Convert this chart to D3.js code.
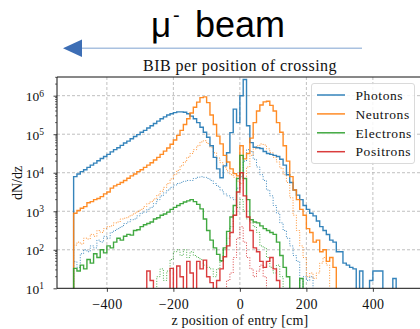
<!DOCTYPE html>
<html><head><meta charset="utf-8">
<script src="https://cdn.jsdelivr.net/npm/d3@7"></script>
<style>
html,body{margin:0;padding:0;background:#fff;overflow:hidden}
svg{display:block}
</style></head>
<body><svg id="c" width="420" height="329"></svg>
<script>
// ---- data (histograms, 10 cm bins, counts per bin) ----
const binWidth = 10;
const seriesNames = ["Photons", "Neutrons", "Electrons", "Positrons"];
const xTicks = [-400, -200, 0, 200, 400];
const yTicks = [1e1, 1e2, 1e3, 1e4, 1e5, 1e6];

const photonsStart = -500;
const photons = [7.9e3,9.3e3,1.07e4,1.2e4,1.38e4,1.58e4,1.78e4,2.04e4,2.34e4,2.63e4,
  3.0e4,3.47e4,3.98e4,4.47e4,5.13e4,5.89e4,6.6e4,7.59e4,8.7e4,9.77e4,
  1.12e5,1.26e5,1.45e5,1.66e5,1.9e5,2.19e5,2.51e5,2.82e5,3.16e5,3.39e5,
  3.63e5,3.8e5,3.8e5,3.72e5,3.39e5,2.95e5,2.51e5,2.0e5,1.51e5,1.12e5,
  8.3e4,5.0e4,2.51e4,1.26e4,7.4e3,1.51e4,3.3e4,1.1e5,4.47e5,2.0e5,
  1.0e6,2.63e6,1.66e5,6.03e4,4.57e4,4.47e4,4.27e4,3.55e4,3.16e4,3.0e4,
  2.82e4,2.63e4,2.24e4,1.58e4,8.9e3,5.6e3,3.55e3,2.63e3,2.0e3,1.41e3,
  1.12e3,8.9e2,7.6e2,5.6e2,4.0e2,3.16e2,2.5e2,1.78e2,1.58e2,89,
  89,45,40,35,32,0,28,0,0,16,
  28,28,28,0,0,0,18,0];
const neutronsStart = -500;
const neutrons = [8.9e2,1.05e3,1.2e3,1.32e3,1.66e3,1.78e3,2.0e3,2.14e3,2.4e3,2.82e3,
  3.16e3,3.98e3,4.57e3,5.0e3,5.6e3,6.3e3,7.2e3,8.3e3,9.3e3,1.07e4,
  1.2e4,1.38e4,1.58e4,1.82e4,2.14e4,2.51e4,3.0e4,3.63e4,4.37e4,5.5e4,
  7.1e4,9.3e4,1.26e5,1.78e5,2.51e5,3.55e5,5.0e5,6.8e5,8.9e5,9.3e5,
  6.6e5,3.16e5,1.78e5,8.9e4,5.6e4,2.82e4,1.9e4,1.26e4,9.5e3,8.3e3,
  5.0e4,2.29e4,3.16e4,7.9e4,2.0e5,4.0e5,5.75e5,6.9e5,7.2e5,5.6e5,
  4.0e5,2.0e5,1.12e5,5.0e4,2.0e4,7.9e3,3.55e3,2.0e3,1.12e3,7.9e2,
  3.55e2,2.82e2,1.58e2,1.78e2,89,1.0e2,50,63,35];
const electronsStart = -500;
const electrons = [33,28,40,32,56,45,79,63,1.0e2,83,
  1.26e2,1.12e2,1.58e2,2.0e2,1.78e2,2.24e2,2.51e2,2.4e2,3.16e2,3.3e2,
  3.98e2,4.47e2,4.79e2,5.25e2,6.3e2,6.8e2,7.9e2,8.5e2,9.5e2,1.12e3,
  1.26e3,1.41e3,1.58e3,1.74e3,1.86e3,2.0e3,1.78e3,1.51e3,1.15e3,6.3e2,
  3.16e2,1.78e2,1.12e2,76,52,1.12e2,3.0e2,7.1e2,1.41e3,7.1e3,
  2.82e4,7.1e3,2.0e3,6.03e2,5.25e2,5.0e2,4.17e2,3.55e2,3.16e2,2.82e2,
  2.51e2,1.58e2,71,35,20,0,0,0,18];
const positronsStart = -280;
const positrons = [28,16,0,0,0,0,0,33,0,38,
  20,0,50,25,0,50,32,54,20,14,
  0,16,32,66,1.26e2,2.82e2,7.9e2,3.16e3,1.0e4,2.51e3,
  7.1e2,3.16e2,1.12e2,89,50,35,50,63,32,16];

// secondary (dotted) histograms
const photonsDotStart = -500;
const photonsDot = [49,35,79,1.0e2,89,1.26e2,1.12e2,1.78e2,1.58e2,2.24e2,
  2.0e2,2.82e2,3.16e2,3.55e2,3.98e2,4.79e2,5.25e2,6.03e2,6.3e2,7.6e2,
  8.9e2,9.5e2,1.12e3,1.26e3,1.58e3,2.0e3,2.51e3,3.0e3,3.55e3,4.17e3,
  4.79e3,5.25e3,5.6e3,6.03e3,6.3e3,6.3e3,7.1e3,7.6e3,7.9e3,7.6e3,
  7.1e3,6.3e3,5.25e3,4.47e3,3.55e3,2.82e3,2.51e3,2.24e3,2.0e3,3.98e3,
  7.9e3,2.0e4,3.98e4,3.55e4,2.24e4,1.41e4,8.9e3,6.3e3,3.55e3,2.51e3,
  1.41e3,8.9e2,5.0e2,3.16e2,2.0e2,1.26e2,71,50,0,20,
  16,20];
const neutronsDotStart = -500;
const neutronsDot = [1.32e2,1.58e2,1.41e2,2.0e2,1.9e2,2.51e2,2.24e2,3.16e2,2.82e2,3.55e2,
  3.98e2,4.17e2,5.0e2,5.25e2,6.3e2,6.6e2,7.1e2,7.9e2,8.9e2,1.0e3,
  1.12e3,1.32e3,1.58e3,1.78e3,2.09e3,2.63e3,3.3e3,4.17e3,5.25e3,6.9e3,
  8.9e3,1.15e4,1.51e4,1.9e4,2.51e4,3.16e4,3.98e4,5.0e4,6.3e4,6.8e4,
  5.75e4,4.57e4,3.3e4,2.4e4,1.82e4,1.38e4,1.12e4,8.9e3,7.6e3,6.03e3,
  5.25e3,7.1e3,1.41e4,2.82e4,4.17e4,5.0e4,5.6e4,5.25e4,4.17e4,3.3e4,
  2.51e4,1.9e4,1.32e4,8.9e3,5.6e3,2.24e3,7.9e2,3.16e2,1.26e2,63,
  20,25,18,25,45,63,40];
const electronsDotStart = -250;
const electronsDot = [20,32,16,28,56,89,1.0e2,71,1.0e2,63,
  89,71,63,56,40,35,32,20,32,50,
  1.0e2,2.0e2,3.98e2,7.9e2,1.26e3,2.0e3,1.0e3,6.3e2,5.0e2,3.98e2,
  2.82e2,1.26e2,1.12e2,63,35,25,40,20];
const positronsDotStart = -40;
const positronsDot = [16,25,63,2.0e2,3.98e2,1.58e2,63,32,20,28,40,20];

// ---- layout ----
const plot = {left: 57, top: 77, right: 422.75, bottom: 288.3};
const colors = ["#1f77b4", "#ff7f0e", "#2ca02c", "#d62728"];

const svg = d3.select("#c");
const x = d3.scaleLinear().domain([-550, 550]).range([plot.left, plot.right]);
const y = d3.scaleLog().domain([10, Math.pow(10, 6.485)]).range([plot.bottom, plot.top]);
const serif = "'Liberation Serif','DejaVu Serif',serif";
const sans = "'Liberation Sans',Arial,sans-serif";

// ---- header: beam direction ----
const hdr = svg.append("g");
hdr.append("text").attr("x", 151).attr("y", 37).attr("font-family", sans).attr("font-size", 35).attr("fill", "#000").text("μ");
hdr.append("text").attr("x", 173).attr("y", 22).attr("font-family", sans).attr("font-size", 20).attr("fill", "#000").text("-");
hdr.append("text").attr("x", 195).attr("y", 37).attr("font-family", sans).attr("font-size", 36).attr("fill", "#000").text("beam");
hdr.append("line").attr("x1", 78).attr("x2", 362).attr("y1", 48.3).attr("y2", 48.3)
  .attr("stroke", "#a9c1e0").attr("stroke-width", 1.5);
hdr.append("path").attr("d", "M63,48.3 L82,39.5 L82,57.1 Z").attr("fill", "#3d6eb5");

svg.append("text").attr("x", 240).attr("y", 71).attr("text-anchor", "middle")
  .attr("font-family", serif).attr("font-size", 16).attr("letter-spacing", 0.45).attr("fill", "#111")
  .text("BIB per position of crossing");

// ---- grid ----
const grid = svg.append("g");
xTicks.forEach(t => grid.append("line").attr("x1", x(t)).attr("x2", x(t))
  .attr("y1", plot.top).attr("y2", plot.bottom)
  .attr("stroke", "#b0b0b0").attr("stroke-width", 0.8).attr("stroke-dasharray", "3,2"));
yTicks.slice(1).forEach(t => grid.append("line").attr("x1", plot.left).attr("x2", plot.right)
  .attr("y1", y(t)).attr("y2", y(t))
  .attr("stroke", "#b0b0b0").attr("stroke-width", 0.8).attr("stroke-dasharray", "3,2"));

// ---- histograms ----
svg.append("clipPath").attr("id", "clip").append("rect")
  .attr("x", plot.left).attr("y", plot.top).attr("width", plot.right - plot.left).attr("height", plot.bottom - plot.top);
const gData = svg.append("g").attr("clip-path", "url(#clip)");
const yv = v => v > 0 ? y(v) : plot.bottom + 4;
function stepPath(start, vals) {
  const pts = [[x(start), plot.bottom + 4]];
  vals.forEach((v, i) => {
    const z0 = start + i * binWidth, z1 = z0 + binWidth;
    pts.push([x(z0), yv(v)]);
    pts.push([x(z1), yv(v)]);
  });
  pts.push([x(start + vals.length * binWidth), plot.bottom + 4]);
  return d3.line()(pts);
}
const dotted = [[photonsDotStart, photonsDot], [neutronsDotStart, neutronsDot], [electronsDotStart, electronsDot], [positronsDotStart, positronsDot]];
const solid = [[photonsStart, photons], [neutronsStart, neutrons], [electronsStart, electrons], [positronsStart, positrons]];
dotted.forEach((s, i) => gData.append("path").attr("d", stepPath(s[0], s[1]))
  .attr("fill", "none").attr("stroke", colors[i]).attr("stroke-width", 1)
  .attr("stroke-dasharray", "1,1.6").attr("opacity", 0.85));
solid.forEach((s, i) => gData.append("path").attr("d", stepPath(s[0], s[1]))
  .attr("fill", "none").attr("stroke", colors[i]).attr("stroke-width", 1.4)
  .attr("stroke-linejoin", "miter").attr("opacity", 0.9));

// ---- axes ----
const xAxis = svg.append("g").attr("transform", `translate(0,${plot.bottom})`)
  .call(d3.axisBottom(x).tickValues(xTicks).tickSize(3.5).tickFormat(d => d < 0 ? "\u2212" + Math.abs(d) : d));
xAxis.select(".domain").remove();
xAxis.selectAll("text").attr("font-family", serif).attr("font-size", 14).attr("letter-spacing", 0.4).attr("fill", "#111").attr("dy", "1.0em");
xAxis.selectAll("line").attr("stroke", "#111").attr("stroke-width", 0.8);

const yAxis = svg.append("g").attr("transform", `translate(${plot.left},0)`)
  .call(d3.axisLeft(y).tickValues(yTicks).tickSize(3.5).tickFormat(() => ""));
yAxis.select(".domain").remove();
yAxis.selectAll("line").attr("stroke", "#111").attr("stroke-width", 0.8);
yAxis.selectAll(".tick text").each(function(d) {
  const t = d3.select(this).text(null).attr("font-family", serif).attr("font-size", 13.5)
    .attr("fill", "#111").attr("x", -13).attr("dy", "0.38em");
  t.append("tspan").text("10");
  t.append("tspan").attr("dy", "-0.5em").attr("font-size", 9.5).text(Math.round(Math.log10(d)));
});
// minor log ticks
const minor = [];
for (let e = 1; e <= 6; e++) for (let m = 2; m <= 9; m++) { const v = m * Math.pow(10, e); if (v < y.domain()[1]) minor.push(v); }
svg.append("g").selectAll("line").data(minor).join("line")
  .attr("x1", plot.left - 2).attr("x2", plot.left).attr("y1", d => y(d)).attr("y2", d => y(d))
  .attr("stroke", "#111").attr("stroke-width", 0.6);

// spines
svg.append("path").attr("d", `M${plot.right},${plot.top} L${plot.left},${plot.top} L${plot.left},${plot.bottom} L${plot.right},${plot.bottom}`)
  .attr("fill", "none").attr("stroke", "#111").attr("stroke-width", 1);

// axis labels
svg.append("text").attr("x", 240).attr("y", 325).attr("text-anchor", "middle")
  .attr("font-family", serif).attr("font-size", 14).attr("letter-spacing", 0.2).attr("fill", "#111").text("z position of entry [cm]");
svg.append("text").attr("transform", "translate(22,183) rotate(-90)").attr("text-anchor", "middle")
  .attr("font-family", serif).attr("font-size", 14).attr("fill", "#111").text("dN/dz");

// ---- legend ----
const lg = svg.append("g");
lg.append("rect").attr("x", 311.5).attr("y", 83.5).attr("width", 103).attr("height", 80).attr("rx", 2.5)
  .attr("fill", "#fff").attr("fill-opacity", 0.85).attr("stroke", "#d0d0d0").attr("stroke-width", 0.8);
seriesNames.forEach((n, i) => {
  const yy = 95 + i * 18.9;
  lg.append("line").attr("x1", 317).attr("x2", 345).attr("y1", yy).attr("y2", yy)
    .attr("stroke", colors[i]).attr("stroke-width", 1.5).attr("opacity", 0.9);
  lg.append("text").attr("x", 355.5).attr("y", yy).attr("dy", "0.35em")
    .attr("font-family", serif).attr("font-size", 13.5).attr("letter-spacing", 0.6).attr("fill", "#111").text(n);
});
</script></body></html>
